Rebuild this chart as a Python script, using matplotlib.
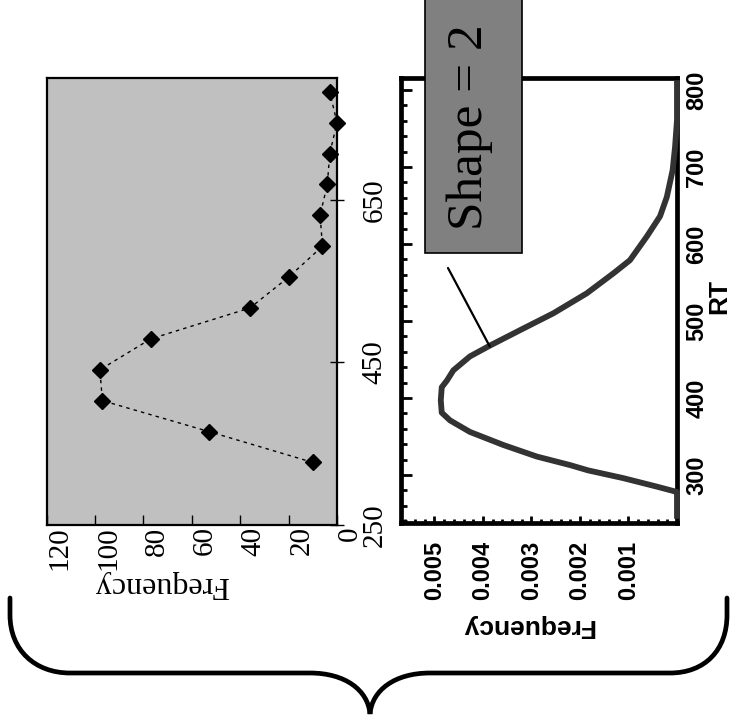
import matplotlib
matplotlib.use("Agg")
import matplotlib.pyplot as plt
from matplotlib import font_manager
from matplotlib.patches import Rectangle, PathPatch
from matplotlib.path import Path
from matplotlib.ticker import MultipleLocator, FixedLocator

# ---------------- data ----------------
# top panel: observed RT histogram (bin centre, count)
rt_bins = [327, 365, 403, 441, 479, 517, 555, 593, 631, 669, 707, 745, 783]
counts = [10, 53, 97, 98, 77, 36, 20, 6, 7, 4, 3, 0, 3]
top_rt_ticks = [250, 450, 650]
top_freq_ticks = [0, 20, 40, 60, 80, 100, 120]

# bottom panel: density curve
curve_rt = [247, 250, 278, 285, 296, 306, 313, 324, 339, 356, 371, 381, 397,
            414, 423, 436, 454, 468, 488, 510, 536, 562, 579, 610, 636, 661,
            696, 726, 761, 809]
curve_density = [0, 0, 0, 0.00042, 0.00111, 0.00183, 0.00221, 0.00289,
                 0.00358, 0.00427, 0.00468, 0.00485, 0.00487, 0.00485,
                 0.00474, 0.00461, 0.00427, 0.00386, 0.00324, 0.00255,
                 0.00186, 0.00131, 0.00097, 0.00062, 0.00035, 0.00021,
                 0.00009, 0.00004, 0, 0]
bottom_rt_ticks = [300, 400, 500, 600, 700, 800]
bottom_freq_ticks = [0.001, 0.002, 0.003, 0.004, 0.005]
bottom_freq_labels = ["0.001", "0.002", "0.003", "0.004", "0.005"]
annot_text = "Shape = 2"
annot_point = (0.00386, 467)

W, H = 731, 724
SERIF = ["Liberation Serif", "DejaVu Serif"]
_names = {f.name for f in font_manager.fontManager.ttflist}
if "Liberation Sans Narrow" in _names:
    NARROW = ["Liberation Sans Narrow", "DejaVu Sans"]
    TICK_FS, LAB_FS = 21, 22
else:
    NARROW = ["Liberation Sans", "DejaVu Sans"]
    TICK_FS, LAB_FS = 17, 19

fig = plt.figure(figsize=(W / 100, H / 100), dpi=100, facecolor="white")


def fx(px):
    return px / W


def fy(py):
    return 1 - py / H


# ---------------- top panel ----------------
ax1 = fig.add_axes([fx(46.7), fy(525), (337 - 46.7) / W, (525 - 78) / H])
ax1.set_facecolor("#c0c0c0")
ax1.plot(counts, rt_bins, color="black", lw=1.0, ls=(0, (2.5, 3)),
         marker="D", ms=8, mfc="black", mec="black", clip_on=False, zorder=3)
ax1.set_xlim(120, 0)
ax1.set_ylim(250, 800)
ax1.xaxis.set_major_locator(FixedLocator(top_freq_ticks))
ax1.yaxis.set_major_locator(FixedLocator(top_rt_ticks))
for s in ax1.spines.values():
    s.set_linewidth(1.6)
    s.set_color("black")
ax1.tick_params(axis="x", direction="in", length=7, width=1, pad=1,
                labelsize=21, labelrotation=90, bottom=True, top=False)
ax1.tick_params(axis="y", direction="inout", length=10, width=1, pad=12.5,
                labelsize=21, labelrotation=90, left=False, right=True,
                labelleft=False, labelright=True)
for lab in ax1.get_xticklabels():
    lab.set_fontfamily(SERIF)
    lab.set_ha("left")
    lab.set_va("top")
for lab in ax1.get_yticklabels():
    lab.set_fontfamily(SERIF)
    lab.set_va("center")
ax1.set_xlabel("Frequency", rotation=180, fontsize=23, family=SERIF,
               va="center", ha="center")
ax1.xaxis.set_label_coords(0.397, -0.134)

# ---------------- bottom panel ----------------
ax2 = fig.add_axes([fx(401), fy(523), (677 - 401) / W, (523 - 78) / H])
ax2.set_facecolor("white")
ax2.plot(curve_density, curve_rt, color="#333333", lw=4.2,
         solid_joinstyle="round", clip_on=False, zorder=3)
ax2.set_xlim(0.00569, 0)
ax2.set_ylim(237.7, 815.6)
ax2.xaxis.set_major_locator(FixedLocator(bottom_freq_ticks))
ax2.xaxis.set_minor_locator(MultipleLocator(0.0002))
ax2.set_xticklabels(bottom_freq_labels)
ax2.yaxis.set_major_locator(FixedLocator(bottom_rt_ticks))
ax2.yaxis.set_minor_locator(MultipleLocator(20))
for s in ax2.spines.values():
    s.set_linewidth(3.4)
    s.set_color("black")
ax2.tick_params(axis="x", which="major", direction="in", length=5, width=2,
                pad=13, labelsize=TICK_FS, labelrotation=90, top=False)
ax2.tick_params(axis="x", which="minor", direction="in", length=3, width=2,
                top=False)
ax2.tick_params(axis="y", which="major", direction="in", length=8, width=2,
                pad=6, labelsize=TICK_FS, labelrotation=90, left=True,
                right=False, labelleft=False, labelright=True)
ax2.tick_params(axis="y", which="minor", direction="in", length=4, width=2,
                left=True, right=False)
for lab in ax2.get_xticklabels() + ax2.get_yticklabels():
    lab.set_fontfamily(NARROW)
    lab.set_fontweight("bold")
for lab in ax2.get_yticklabels():
    lab.set_va("center")
ax2.set_xlabel("Frequency", rotation=180, fontsize=LAB_FS, family=NARROW,
               fontweight="bold", va="center", ha="center")
ax2.xaxis.set_label_coords(0.458, -0.231)
ax2.yaxis.set_label_position("right")
ax2.set_ylabel("RT", rotation=90, fontsize=LAB_FS, family=NARROW,
               fontweight="bold", va="center", ha="center")
ax2.yaxis.set_label_coords(1.152, 0.508)

# annotation pointer
ax2.annotate("", xy=annot_point, xycoords="data",
             xytext=(fx(448), fy(268)), textcoords="figure fraction",
             arrowprops=dict(arrowstyle="-", lw=1.6, color="black",
                             shrinkA=0, shrinkB=0))

# text box
box = Rectangle((fx(425), fy(253)), (522 - 425) / W, 0.4,
                transform=fig.transFigure, facecolor="#808080",
                edgecolor="black", lw=1.2, zorder=5)
fig.add_artist(box)
fig.text(fx(470), fy(127), annot_text, rotation=90, ha="center", va="center",
         fontsize=37, family=SERIF, color="black", zorder=6)

# curly brace
pts = [(10, 598), (10, 615), (10, 650), (35, 673), (70, 673), (310, 673),
       (345, 673), (368, 690), (370, 714),
       (372, 690), (395, 673), (430, 673), (670, 673),
       (705, 673), (727, 650), (727, 615), (727, 598)]
codes = [Path.MOVETO, Path.LINETO, Path.CURVE4, Path.CURVE4, Path.CURVE4,
         Path.LINETO, Path.CURVE4, Path.CURVE4, Path.CURVE4,
         Path.CURVE4, Path.CURVE4, Path.CURVE4, Path.LINETO,
         Path.CURVE4, Path.CURVE4, Path.CURVE4, Path.LINETO]
brace = PathPatch(Path([(fx(x), fy(y)) for x, y in pts], codes),
                  transform=fig.transFigure, facecolor="none",
                  edgecolor="black", lw=3.4, capstyle="round", zorder=5)
fig.add_artist(brace)

fig.savefig("out.png", dpi=100, facecolor="white")
